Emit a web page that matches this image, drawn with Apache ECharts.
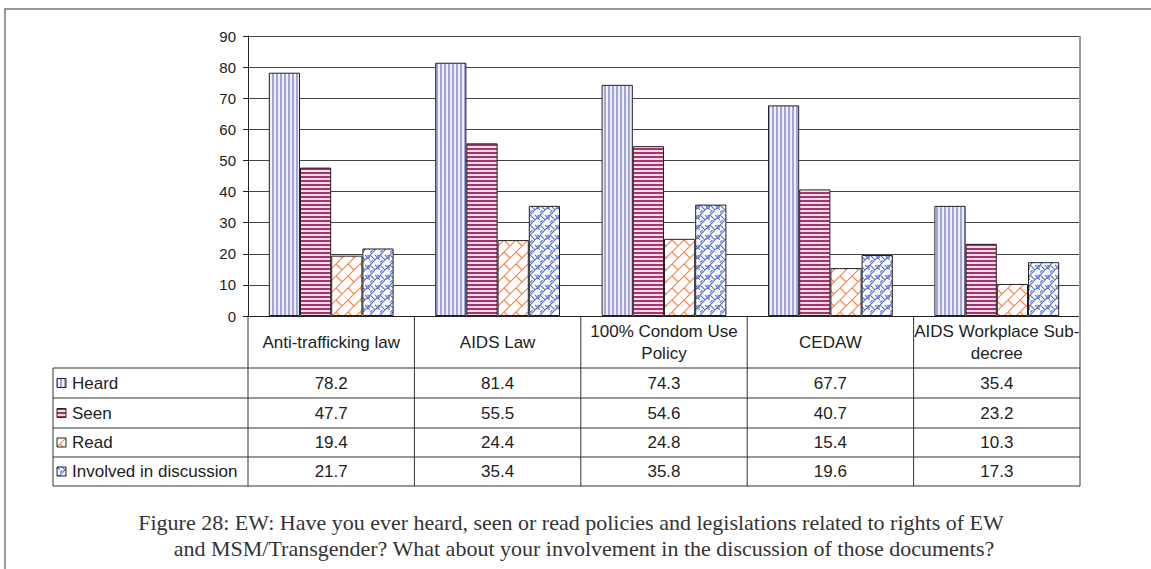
<!DOCTYPE html>
<html>
<head>
<meta charset="utf-8">
<script src="https://cdn.jsdelivr.net/npm/echarts@6/dist/echarts.min.js"></script>
<style>
html,body{margin:0;padding:0;background:#fff;}
#main{width:1151px;height:569px;}
</style>
</head>
<body>
<div id="main"></div>
<script>
// ---- data ----
const categories = ['Anti-trafficking law', 'AIDS Law', '100% Condom Use Policy', 'CEDAW', 'AIDS Workplace Sub-decree'];
const categoryLabels = ['Anti-trafficking law', 'AIDS Law', '100% Condom Use\nPolicy', 'CEDAW', 'AIDS Workplace Sub-\ndecree'];
const seriesNames = ['Heard', 'Seen', 'Read', 'Involved in discussion'];
const heard = [78.2, 81.4, 74.3, 67.7, 35.4];
const seen = [47.7, 55.5, 54.6, 40.7, 23.2];
const read = [19.4, 24.4, 24.8, 15.4, 10.3];
const involved = [21.7, 35.4, 35.8, 19.6, 17.3];
const yTicks = [0, 10, 20, 30, 40, 50, 60, 70, 80, 90];
const captionLines = [
  'Figure 28: EW: Have you ever heard, seen or read policies and legislations related to rights of EW',
  'and MSM/Transgender? What about your involvement in the discussion of those documents?'
];

// ---- patterns ----
function tile(w, h, draw) {
  const c = document.createElement('canvas');
  c.width = w; c.height = h;
  const g = c.getContext('2d');
  draw(g, w, h);
  return { image: c, repeat: 'repeat', imageWidth: w, imageHeight: h };
}
const patHeard = tile(4, 4, (g, w, h) => {
  g.fillStyle = '#f0f0fb'; g.fillRect(0, 0, w, h);
  g.fillStyle = '#a4a4dc'; g.fillRect(0, 0, 2, h);
});
const patSeen = tile(4, 4, (g, w, h) => {
  g.fillStyle = '#f2dce7'; g.fillRect(0, 0, w, h);
  g.fillStyle = '#a8326e'; g.fillRect(0, 0, w, 2);
});
const patRead = tile(12, 12, (g, s) => {
  g.fillStyle = '#ffffff'; g.fillRect(0, 0, s, s);
  g.strokeStyle = '#ff8040'; g.lineWidth = 1.2;
  g.beginPath();
  for (let k = -1; k <= 1; k++) {
    g.moveTo(-1 + k * s, s + 1); g.lineTo(s + 1 + k * s, -1);
  }
  for (let dx = -1; dx <= 1; dx++) for (let dy = -1; dy <= 1; dy++) {
    g.moveTo(dx * s, dy * s); g.lineTo(dx * s + s / 2, dy * s + s / 2);
  }
  g.stroke();
});
const patInv = tile(10, 10, (g, s) => {
  g.fillStyle = '#ffffff'; g.fillRect(0, 0, s, s);
  g.strokeStyle = '#5f74cc'; g.lineWidth = 1.1;
  g.beginPath();
  // basket weave of short diagonals
  g.moveTo(0, 5); g.lineTo(5, 0);
  g.moveTo(0, 2.5); g.lineTo(2.5, 0);
  g.moveTo(5, 5); g.lineTo(10, 10);
  g.moveTo(7.5, 5); g.lineTo(10, 7.5);
  g.moveTo(5, 10); g.lineTo(10, 5);
  g.moveTo(0, 5); g.lineTo(5, 10);
  g.stroke();
});
const patterns = [patHeard, patSeen, patRead, patInv];
const seriesData = [heard, seen, read, involved];

// ---- layout ----
const W = 1151, H = 569;
const GL = 248, GT = 36, GR = 1080, GB = 316;
const colW = (GR - GL) / categories.length;
const TABLE_L = 53;
const ROW_Y = [368, 398, 428, 457, 486];
const LINE = '#333';
const SANS = '"Liberation Sans", Arial, sans-serif';
const CAPTION_X = [571, 584];

const graphics = [];
// outer frame
graphics.push({ type: 'rect', shape: { x: 5, y: 9, width: W + 10, height: H + 10 }, style: { fill: 'none', stroke: '#777', lineWidth: 1.5 }, silent: true });
// right border of plot/table
graphics.push({ type: 'line', shape: { x1: GR, y1: GT, x2: GR, y2: ROW_Y[4] }, style: { stroke: '#9a9a9a', lineWidth: 2 }, z: 50 });
// table horizontal lines
ROW_Y.forEach(y => graphics.push({ type: 'line', shape: { x1: TABLE_L, y1: y, x2: GR, y2: y }, style: { stroke: LINE, lineWidth: 1 }, z: 50 }));
// vertical lines
graphics.push({ type: 'line', shape: { x1: TABLE_L, y1: ROW_Y[0], x2: TABLE_L, y2: ROW_Y[4] }, style: { stroke: LINE, lineWidth: 1 }, z: 50 });
for (let i = 0; i < categories.length; i++) {
  const x = GL + i * colW;
  graphics.push({ type: 'line', shape: { x1: x, y1: GB, x2: x, y2: ROW_Y[4] }, style: { stroke: LINE, lineWidth: 1 }, z: 50 });
}
// row headers + values
seriesNames.forEach((name, r) => {
  const cy = (ROW_Y[r] + ROW_Y[r + 1]) / 2;
  graphics.push({ type: 'rect', shape: { x: 57, y: cy - 4.5, width: 9, height: 9 }, style: { fill: patterns[r], stroke: '#222', lineWidth: 1 }, z: 51 });
  graphics.push({ type: 'text', x: 72, y: cy, style: { text: name, font: '17px ' + SANS, fill: '#222', textVerticalAlign: 'middle', textAlign: 'left' }, z: 51 });
  seriesData[r].forEach((v, c) => {
    graphics.push({ type: 'text', x: GL + (c + 0.5) * colW, y: cy, style: { text: v.toFixed(1), font: '17px ' + SANS, fill: '#222', textVerticalAlign: 'middle', textAlign: 'center' }, z: 51 });
  });
});
// caption
captionLines.forEach((t, i) => {
  graphics.push({ type: 'text', x: CAPTION_X[i], y: 522 + i * 26, style: { text: t, font: '22px "Liberation Serif", "Times New Roman", serif', fill: '#333', textVerticalAlign: 'middle', textAlign: 'center' } });
});

const chart = echarts.init(document.getElementById('main'), null, { renderer: 'svg' });
chart.setOption({
  backgroundColor: '#fff',
  animation: false,
  grid: { left: GL, top: GT, width: GR - GL, height: GB - GT, containLabel: false },
  xAxis: {
    type: 'category',
    data: categories,
    axisLine: { show: true, lineStyle: { color: '#222', width: 1 } },
    axisTick: { show: false },
    axisLabel: {
      interval: 0,
      margin: 26,
      verticalAlign: 'middle',
      fontSize: 17,
      lineHeight: 22,
      color: '#222',
      fontFamily: SANS,
      formatter: (v, i) => categoryLabels[i]
    }
  },
  yAxis: {
    type: 'value',
    min: yTicks[0],
    max: yTicks[yTicks.length - 1],
    interval: yTicks[1] - yTicks[0],
    axisLine: { show: true, lineStyle: { color: '#222', width: 1 } },
    axisTick: { show: true, length: 5, lineStyle: { color: '#222' } },
    axisLabel: { margin: 12, fontSize: 15, color: '#222', fontFamily: SANS },
    splitLine: { show: true, lineStyle: { color: '#444', width: 1 } }
  },
  series: seriesNames.map((name, i) => ({
    name: name,
    type: 'bar',
    data: seriesData[i],
    barGap: '0%',
    barCategoryGap: '25%',
    itemStyle: { color: patterns[i], borderColor: '#222', borderWidth: 1 }
  })),
  graphic: graphics
});
</script>
</body>
</html>
